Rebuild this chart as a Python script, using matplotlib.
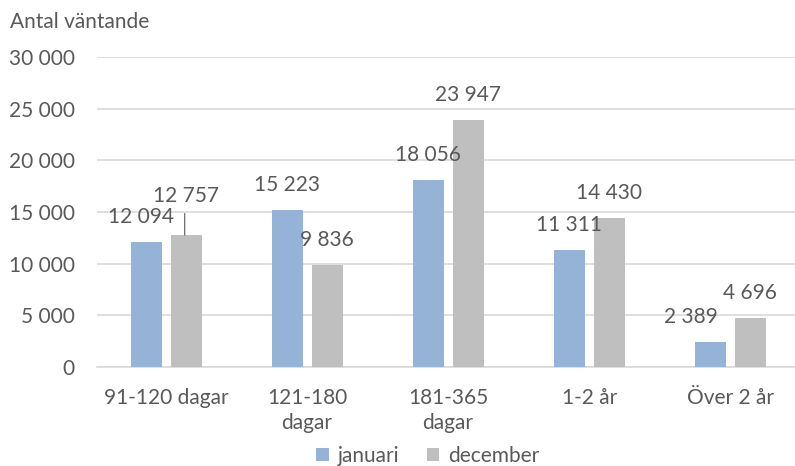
import numpy as np
import matplotlib.pyplot as plt

plt.rcParams['font.family'] = ['Lato', 'DejaVu Sans']

categories = ['91-120 dagar', '121-180\ndagar', '181-365\ndagar', '1-2 år', 'Över 2 år']
januari = [12094, 15223, 18056, 11311, 2389]
december = [12757, 9836, 23947, 14430, 4696]
series_names = ['januari', 'december']

blue = '#95B3D7'
grey = '#BFBFBF'
txt = '#595959'
fs = 15

fig = plt.figure(figsize=(7.95, 4.66), dpi=100)
ax = fig.add_axes([97/795, 1-367/466, 698/795, 310/466])

x = np.arange(len(categories))
w = 0.22
off = 0.142
ax.bar(x - off, januari, w, color=blue, label=series_names[0], zorder=3)
ax.bar(x + off, december, w, color=grey, label=series_names[1], zorder=3)

def fmt(v):
    return f'{v:,}'.replace(',', ' ')

# data labels, a few were moved by hand in the original
shift_j = {0: (-4, 0), 4: (-14, 0)}
for i, v in enumerate(januari):
    dx, dy = shift_j.get(i, (0, 0))
    ax.annotate(fmt(v), (x[i] - off, v), xytext=(dx, 18 + dy), textcoords='offset points',
                ha='center', va='center', fontsize=fs, color=txt, zorder=4)
for i, v in enumerate(december):
    if i == 0:
        # label pulled up, with a leader line
        ax.annotate(fmt(v), (x[i] + off, v), xytext=(0, 28), textcoords='offset points',
                    ha='center', va='center', fontsize=fs, color=txt, zorder=4)
        ax.annotate('', (x[i] + off - 0.01, v), xytext=(x[i] + off - 0.01, v + 2100),
                    arrowprops=dict(arrowstyle='-', color=txt, lw=0.8, shrinkA=0, shrinkB=0))
        continue
    ax.annotate(fmt(v), (x[i] + off, v), xytext=(0, 18), textcoords='offset points',
                ha='center', va='center', fontsize=fs, color=txt, zorder=4)

ax.set_xlim(-0.49, 4.46)
ax.set_ylim(0, 30000)
ax.set_yticks(np.arange(0, 30001, 5000))
ax.set_yticklabels([fmt(t) for t in range(0, 30001, 5000)])
ax.set_xticks(x)
ax.set_xticklabels(categories)
ax.tick_params(axis='both', length=0, labelsize=fs, colors=txt)
ax.tick_params(axis='y', pad=16)
ax.tick_params(axis='x', pad=15)
for lbl in ax.get_xticklabels():
    lbl.set_linespacing(1.3)
    lbl.set_va('top')
ax.grid(axis='y', color='#D9D9D9', lw=1.2, zorder=0)
for s in ['top', 'right', 'left']:
    ax.spines[s].set_visible(False)
ax.spines['bottom'].set_color('#D9D9D9')
ax.spines['bottom'].set_linewidth(1.2)

fig.text(10/795, 1-22/466, 'Antal väntande', fontsize=fs, color=txt, va='center', ha='left')

fig.legend(loc='center', bbox_to_anchor=(428/795, 1-456/466), ncol=2, frameon=False,
           fontsize=fs, labelcolor=txt, handlelength=0.6, handleheight=0.55,
           handletextpad=0.45, columnspacing=1.3)

fig.savefig('out.png', dpi=100)
